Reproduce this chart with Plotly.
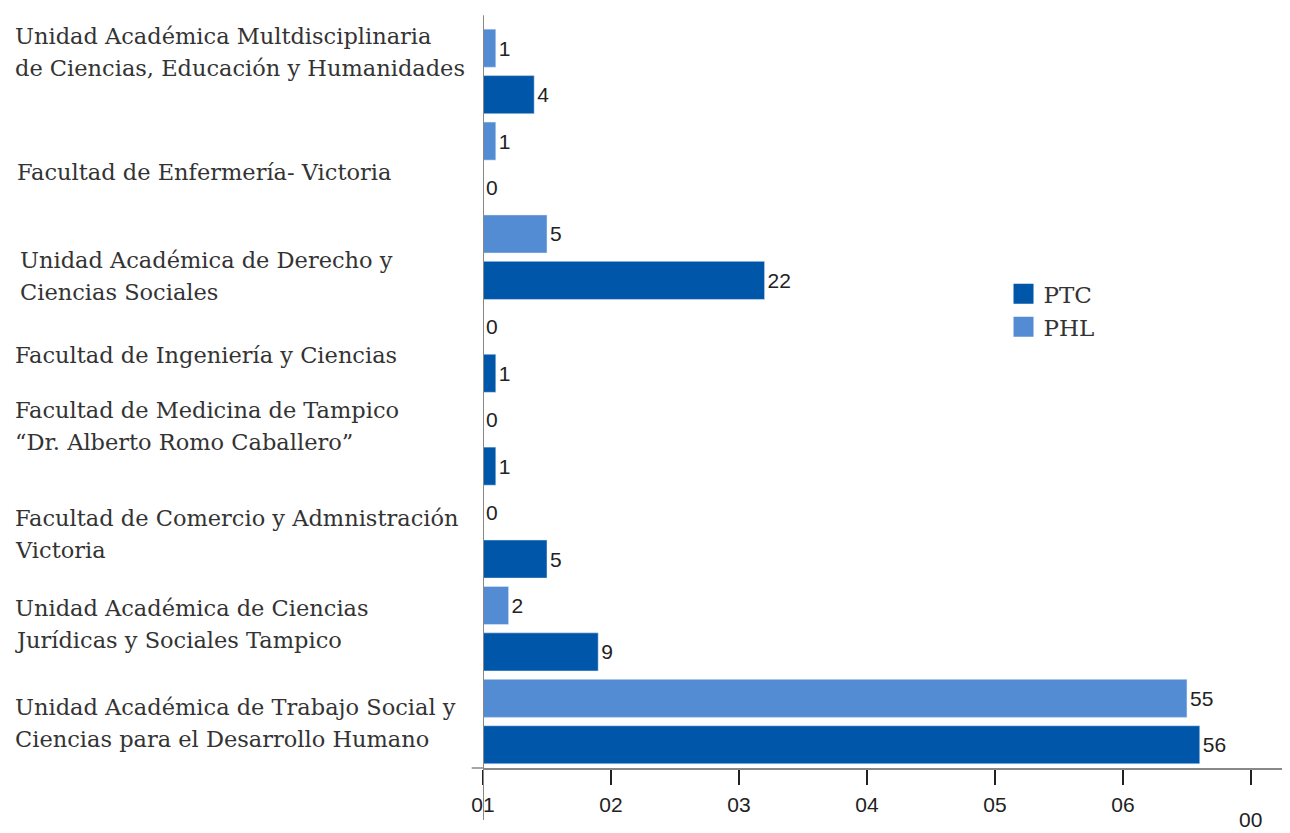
import plotly.graph_objects as go

categories = [
    "Unidad Académica Multdisciplinaria<br>de Ciencias, Educación y Humanidades",
    "Facultad de Enfermería- Victoria",
    "Unidad Académica de Derecho y<br>Ciencias Sociales",
    "Facultad de Ingeniería y Ciencias",
    "Facultad de Medicina de Tampico<br>“Dr. Alberto Romo Caballero”",
    "Facultad de Comercio y Admnistración<br>Victoria",
    "Unidad Académica de Ciencias<br>Jurídicas y Sociales Tampico",
    "Unidad Académica de Trabajo Social y<br>Ciencias para el Desarrollo Humano",
]
ptc = [4, 0, 22, 1, 1, 5, 9, 56]
phl = [1, 1, 5, 0, 0, 0, 2, 55]
tick_vals = [0, 10, 20, 30, 40, 50, 60]
tick_text = ["01", "02", "03", "04", "05", "06", "00"]

# vertical label nudges (px) relative to the category centre
label_shift = [19, -8, -19, -5, 17, 2, 5, -1]
# horizontal indents (px) for each label
label_indent = [0, 2, 5, 0, 0, 0, 0, 0]

C_PTC = "#0056A8"
C_PHL = "#548CD4"
SERIF = "DejaVu Serif"
SANS = "Liberation Sans"

fig = go.Figure()
fig.add_trace(go.Bar(
    y=categories, x=phl, orientation="h", name="PHL", marker_color=C_PHL,
    text=phl, textposition="outside", cliponaxis=False,
    textfont=dict(family=SANS, size=21, color="#222"), showlegend=False))
fig.add_trace(go.Bar(
    y=categories, x=ptc, orientation="h", name="PTC", marker_color=C_PTC,
    text=ptc, textposition="outside", cliponaxis=False,
    textfont=dict(family=SANS, size=21, color="#222"), showlegend=False))

# legend entries
fig.add_trace(go.Scatter(x=[None], y=[None], mode="markers", name="PTC",
                         marker=dict(symbol="square", size=24, color=C_PTC,
                                     line=dict(color=C_PTC, width=4))))
fig.add_trace(go.Scatter(x=[None], y=[None], mode="markers", name="PHL",
                         marker=dict(symbol="square", size=24, color=C_PHL,
                                     line=dict(color=C_PHL, width=4))))

annotations = []
for i, cat in enumerate(categories):
    lines = cat.split("<br>")
    n = len(lines)
    for j, line in enumerate(lines):
        off = (j - (n - 1) / 2) * 32
        annotations.append(dict(
            x=0, xref="paper", xanchor="left", xshift=-470 + label_indent[i],
            y=cat, yref="y", yanchor="middle",
            yshift=label_shift[i] - off,
            text=line, showarrow=False, align="left",
            font=dict(family=SERIF, size=22.5, color="#333")))

# last tick label sits lower than the others
annotations.append(dict(
    x=tick_vals[-1], xref="x", y=0, yref="paper", yanchor="middle", yshift=-51,
    text=tick_text[-1], showarrow=False,
    font=dict(family=SANS, size=21, color="#222")))

# page body has an 8px margin: figure is offset accordingly
fig.update_layout(
    width=1282, height=825,
    margin=dict(l=475, r=0, t=17, b=65, autoexpand=False),
    plot_bgcolor="white", paper_bgcolor="white",
    barmode="group", bargap=0.0, bargroupgap=0.18,
    annotations=annotations,
    legend=dict(x=0.645, y=0.667, xanchor="left", yanchor="top",
                itemsizing="trace", font=dict(family=SERIF, size=23, color="#333"),
                bgcolor="rgba(0,0,0,0)", tracegroupgap=0),
    xaxis=dict(range=[0, 63.05], tickvals=tick_vals, ticktext=tick_text[:-1] + [""],
               ticks="outside", ticklen=15, tickwidth=2, tickcolor="#222",
               ticklabelstandoff=2, automargin=False,
               showline=True, linecolor="#888", linewidth=1.5,
               showgrid=False, zeroline=False,
               tickfont=dict(family=SANS, size=21, color="#222")),
    yaxis=dict(autorange="reversed", showticklabels=False, showgrid=False,
               zeroline=False, showline=False, ticks="", automargin=False),
    shapes=[
        dict(type="line", xref="x", x0=0, x1=0, yref="paper", y0=-0.07, y1=1.013,
             line=dict(color="#888", width=2)),
        dict(type="line", xref="paper", x0=-0.014, x1=0, yref="paper", y0=0, y1=0,
             line=dict(color="#888", width=1.5)),
    ],
)

fig.write_html("out.html")
